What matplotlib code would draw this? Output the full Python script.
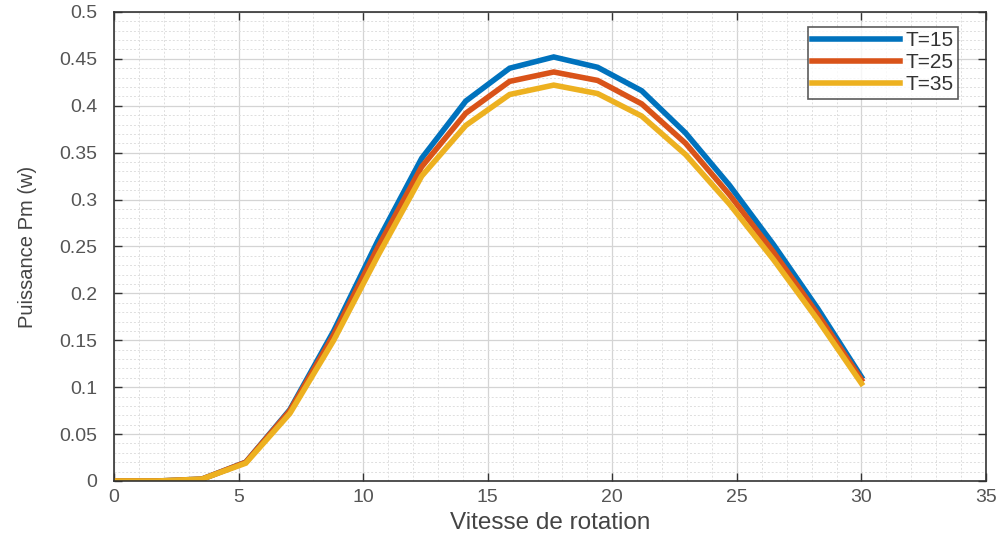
import numpy as np
import matplotlib
matplotlib.use("Agg")
import matplotlib.pyplot as plt
from matplotlib.ticker import MultipleLocator

plt.rcParams['font.family'] = ['Liberation Sans', 'DejaVu Sans']

# data
vitesse = [0, 1.76, 3.53, 5.29, 7.06, 8.82, 10.59, 12.35, 14.12,
           15.88, 17.65, 19.41, 21.18, 22.94, 24.71, 26.47, 28.24, 30]
p_t15 = [0, 0, 0.002, 0.020, 0.076, 0.160, 0.256, 0.344, 0.405,
         0.440, 0.452, 0.441, 0.416, 0.371, 0.315, 0.252, 0.184, 0.111]
p_t25 = [0, 0, 0.002, 0.020, 0.075, 0.156, 0.249, 0.335, 0.392,
         0.426, 0.436, 0.427, 0.402, 0.360, 0.305, 0.244, 0.178, 0.108]
p_t35 = [0, 0, 0.002, 0.019, 0.072, 0.150, 0.240, 0.325, 0.379,
         0.412, 0.422, 0.413, 0.389, 0.348, 0.295, 0.236, 0.172, 0.104]
labels = ['T=15', 'T=25', 'T=35']
colors = ['#0072BD', '#D95319', '#EDB120']

fig = plt.figure(figsize=(9.98, 5.43), dpi=100)
ax = fig.add_axes([0.1142, 0.1142, 0.8738, 0.8638])

for y, lab, c in zip([p_t15, p_t25, p_t35], labels, colors):
    ax.plot(vitesse, y, color=c, linewidth=4, label=lab, solid_joinstyle='miter')

ax.set_xlim(0, 35)
ax.set_ylim(0, 0.5)
ax.xaxis.set_major_locator(MultipleLocator(5))
ax.xaxis.set_minor_locator(MultipleLocator(1))
ax.yaxis.set_minor_locator(MultipleLocator(0.01))
ax.set_yticks(np.arange(0, 0.51, 0.05))
ax.set_yticklabels(['0', '0.05', '0.1', '0.15', '0.2', '0.25', '0.3', '0.35', '0.4', '0.45', '0.5'])

ax.grid(True, which='major', color='#d4d4d4', linewidth=0.9)
ax.grid(True, which='minor', color='#dedede', linewidth=0.7, linestyle=(0, (2, 2)))
ax.set_axisbelow(True)

ax.tick_params(which='both', direction='in', top=True, right=True,
               labelsize=14, colors='#333333', labelcolor='#555555')
ax.tick_params(which='major', length=6, width=1)
ax.tick_params(which='minor', length=0)
ax.tick_params(axis='x', pad=6)
ax.tick_params(axis='y', pad=12)
for s in ax.spines.values():
    s.set_color('#333333')
    s.set_linewidth(1.2)

ax.set_xlabel('Vitesse de rotation', fontsize=17.5, color='#444444', labelpad=4)
ax.set_ylabel('Puissance Pm (w)', fontsize=14.5, color='#444444', labelpad=16)

leg = ax.legend(loc='upper right', bbox_to_anchor=(0.968, 0.968), fontsize=15,
                frameon=True, fancybox=False, edgecolor='#333333',
                handlelength=4.2, handletextpad=0.3, borderpad=0.2,
                labelspacing=0.15, borderaxespad=0)
leg.get_frame().set_linewidth(1.2)
for t in leg.get_texts():
    t.set_color('#333333')

fig.savefig('out.png', dpi=100)
